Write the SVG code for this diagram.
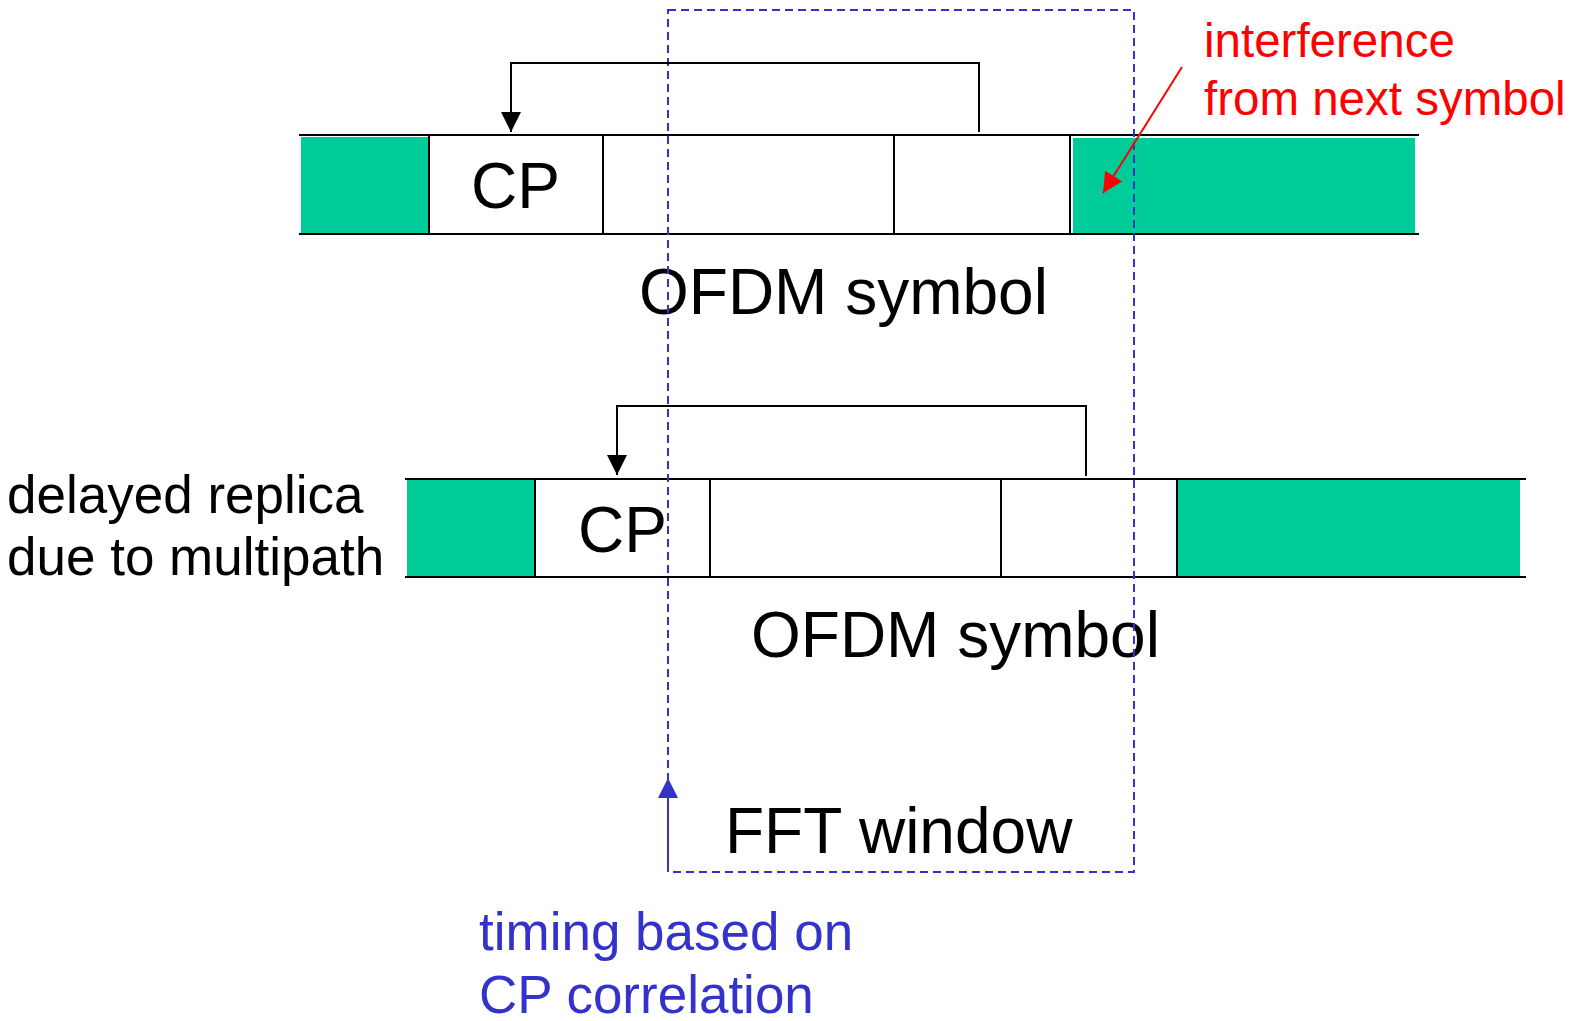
<svg xmlns="http://www.w3.org/2000/svg" width="1574" height="1021" viewBox="0 0 1574 1021">
<style>
text{font-family:"Liberation Sans",Arial,sans-serif}
.big{font-size:64px;fill:#000}
.mid{font-size:53px;fill:#000}
.blue{font-size:53px;fill:#3333cc}
.red{font-size:47.5px;fill:#ff0000}
.ln{stroke:#000;stroke-width:2;fill:none}
.box{stroke:#000;stroke-width:2;fill:#fff}
.grn{fill:#00cc99}
.dash{stroke:#3333cc;stroke-width:2;fill:none;stroke-dasharray:8 5}
</style>
<defs>
<marker id="ab" markerWidth="20" markerHeight="20" viewBox="0 0 20 20" refX="20" refY="10" orient="auto" markerUnits="userSpaceOnUse"><path d="M0,0 L20,10 L0,20 Z" fill="#000"/></marker>
<marker id="ar" markerWidth="20" markerHeight="20" viewBox="0 0 20 20" refX="20" refY="10" orient="auto" markerUnits="userSpaceOnUse"><path d="M0,0 L20,10 L0,20 Z" fill="#ff0000"/></marker>
<marker id="abl" markerWidth="20" markerHeight="20" viewBox="0 0 20 20" refX="20" refY="10" orient="auto" markerUnits="userSpaceOnUse"><path d="M0,0 L20,10 L0,20 Z" fill="#3333cc"/></marker>
</defs>
<g id="row1">
<rect class="grn" x="301" y="137" width="128" height="96"/>
<rect class="grn" x="1073" y="138" width="342" height="95"/>
<line class="ln" x1="299" y1="135" x2="1419" y2="135"/>
<line class="ln" x1="299" y1="234" x2="1419" y2="234"/>
<rect class="box" x="429" y="135" width="174" height="99"/>
<rect class="box" x="894" y="135" width="176" height="99"/>
<text class="big" x="471" y="208">CP</text>
<text class="big" x="639" y="314">OFDM symbol</text>
</g>
<g id="row2">
<rect class="grn" x="407" y="480" width="128" height="97"/>
<rect class="grn" x="1177" y="480" width="343" height="97"/>
<line class="ln" x1="405" y1="479" x2="1526" y2="479"/>
<line class="ln" x1="405" y1="577" x2="1526" y2="577"/>
<rect class="box" x="535" y="479" width="175" height="98"/>
<rect class="box" x="1001" y="479" width="176" height="98"/>
<text class="big" x="578" y="552">CP</text>
<text class="big" x="751" y="657">OFDM symbol</text>
</g>
<g id="fft-window">
<rect class="dash" x="668" y="10" width="466" height="862"/>
<text class="big" x="725" y="853">FFT window</text>
</g>
<g id="labels">
<text class="mid" x="7" y="513">delayed replica</text>
<text class="mid" x="7" y="575">due to multipath</text>
<text class="blue" x="479" y="950">timing based on</text>
<text class="blue" x="479" y="1013">CP correlation</text>
<text class="red" x="1204" y="57">interference</text>
<text class="red" x="1204" y="115">from next symbol</text>
</g>
<g id="connectors">
<path class="ln" d="M979,132 L979,63 L511,63 L511,132" marker-end="url(#ab)"/>
<path class="ln" d="M1086,476 L1086,406 L617,406 L617,475" marker-end="url(#ab)"/>
<line x1="1182" y1="67" x2="1103" y2="193" stroke="#ff0000" stroke-width="2" marker-end="url(#ar)"/>
<line x1="668" y1="872" x2="668" y2="778" stroke="#3333cc" stroke-width="2" marker-end="url(#abl)"/>
</g>
</svg>
